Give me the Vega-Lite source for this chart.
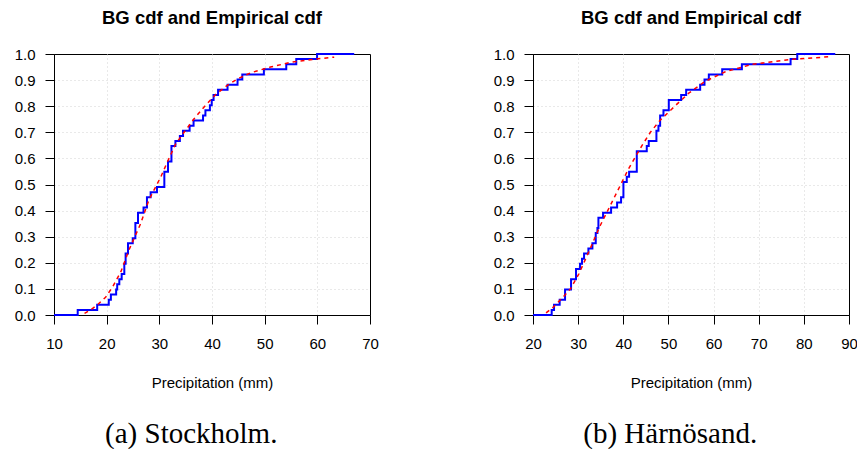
{
  "$schema": "https://vega.github.io/schema/vega-lite/v6.json",
  "background": "white",
  "padding": {"left": 13, "top": 8, "right": 0, "bottom": 0},
  "datasets": {
    "sto_ecdf": [
      {"precip": 10, "cdf": 0},
      {"precip": 14.5, "cdf": 0.0196},
      {"precip": 18.2, "cdf": 0.0392},
      {"precip": 20.4, "cdf": 0.0588},
      {"precip": 20.8, "cdf": 0.0784},
      {"precip": 21.8, "cdf": 0.098},
      {"precip": 22.0, "cdf": 0.1176},
      {"precip": 22.4, "cdf": 0.1373},
      {"precip": 22.85, "cdf": 0.1569},
      {"precip": 23.35, "cdf": 0.1961},
      {"precip": 23.6, "cdf": 0.2353},
      {"precip": 24.05, "cdf": 0.2745},
      {"precip": 24.95, "cdf": 0.2941},
      {"precip": 25.45, "cdf": 0.3529},
      {"precip": 25.95, "cdf": 0.3922},
      {"precip": 27.0, "cdf": 0.4118},
      {"precip": 27.65, "cdf": 0.451},
      {"precip": 28.35, "cdf": 0.4706},
      {"precip": 29.55, "cdf": 0.4902},
      {"precip": 30.95, "cdf": 0.549},
      {"precip": 31.65, "cdf": 0.5882},
      {"precip": 32.3, "cdf": 0.6471},
      {"precip": 33.05, "cdf": 0.6667},
      {"precip": 33.9, "cdf": 0.6863},
      {"precip": 34.5, "cdf": 0.7059},
      {"precip": 35.75, "cdf": 0.7255},
      {"precip": 36.5, "cdf": 0.7451},
      {"precip": 38.3, "cdf": 0.7647},
      {"precip": 38.75, "cdf": 0.7843},
      {"precip": 39.6, "cdf": 0.8039},
      {"precip": 39.95, "cdf": 0.8235},
      {"precip": 40.3, "cdf": 0.8431},
      {"precip": 41.15, "cdf": 0.8627},
      {"precip": 42.95, "cdf": 0.8824},
      {"precip": 44.85, "cdf": 0.902},
      {"precip": 45.75, "cdf": 0.9216},
      {"precip": 49.85, "cdf": 0.9412},
      {"precip": 54.1, "cdf": 0.9608},
      {"precip": 56.0, "cdf": 0.9804},
      {"precip": 59.95, "cdf": 1.0},
      {"precip": 67.0, "cdf": 1.0}
    ],
    "sto_bg": [
      {"precip": 15.8, "cdf": 0.006},
      {"precip": 17.0, "cdf": 0.02},
      {"precip": 18.3, "cdf": 0.04},
      {"precip": 19.8, "cdf": 0.068},
      {"precip": 21.2, "cdf": 0.11},
      {"precip": 22.7, "cdf": 0.166},
      {"precip": 24.25, "cdf": 0.25},
      {"precip": 26.45, "cdf": 0.35},
      {"precip": 28.0, "cdf": 0.44},
      {"precip": 30.3, "cdf": 0.53},
      {"precip": 31.5, "cdf": 0.585},
      {"precip": 33.1, "cdf": 0.655},
      {"precip": 34.7, "cdf": 0.7},
      {"precip": 36.6, "cdf": 0.752},
      {"precip": 38.5, "cdf": 0.797},
      {"precip": 40.7, "cdf": 0.845},
      {"precip": 42.9, "cdf": 0.88},
      {"precip": 44.8, "cdf": 0.904},
      {"precip": 47.35, "cdf": 0.928},
      {"precip": 51.1, "cdf": 0.95},
      {"precip": 54.9, "cdf": 0.968},
      {"precip": 59.4, "cdf": 0.98},
      {"precip": 63.2, "cdf": 0.988}
    ],
    "har_ecdf": [
      {"precip": 20, "cdf": 0},
      {"precip": 24.14, "cdf": 0.0196},
      {"precip": 24.66, "cdf": 0.0392},
      {"precip": 25.91, "cdf": 0.0588},
      {"precip": 27.1, "cdf": 0.098},
      {"precip": 28.43, "cdf": 0.1373},
      {"precip": 29.53, "cdf": 0.1765},
      {"precip": 30.42, "cdf": 0.1961},
      {"precip": 30.86, "cdf": 0.2157},
      {"precip": 31.31, "cdf": 0.2353},
      {"precip": 32.27, "cdf": 0.2549},
      {"precip": 33.16, "cdf": 0.2745},
      {"precip": 33.9, "cdf": 0.3137},
      {"precip": 34.27, "cdf": 0.3333},
      {"precip": 34.49, "cdf": 0.3725},
      {"precip": 35.52, "cdf": 0.3922},
      {"precip": 37.3, "cdf": 0.4118},
      {"precip": 38.63, "cdf": 0.4314},
      {"precip": 39.51, "cdf": 0.451},
      {"precip": 40.03, "cdf": 0.5098},
      {"precip": 40.77, "cdf": 0.5294},
      {"precip": 41.29, "cdf": 0.549},
      {"precip": 42.99, "cdf": 0.6275},
      {"precip": 45.2, "cdf": 0.6471},
      {"precip": 45.64, "cdf": 0.6667},
      {"precip": 47.34, "cdf": 0.7059},
      {"precip": 47.79, "cdf": 0.7255},
      {"precip": 48.16, "cdf": 0.7647},
      {"precip": 48.9, "cdf": 0.7843},
      {"precip": 50.08, "cdf": 0.8235},
      {"precip": 52.82, "cdf": 0.8431},
      {"precip": 53.93, "cdf": 0.8627},
      {"precip": 57.03, "cdf": 0.8824},
      {"precip": 57.99, "cdf": 0.902},
      {"precip": 58.95, "cdf": 0.9216},
      {"precip": 61.91, "cdf": 0.9412},
      {"precip": 66.27, "cdf": 0.9608},
      {"precip": 77.06, "cdf": 0.9804},
      {"precip": 78.54, "cdf": 1.0},
      {"precip": 86.96, "cdf": 1.0}
    ],
    "har_bg": [
      {"precip": 22.9, "cdf": 0.008},
      {"precip": 24.5, "cdf": 0.03},
      {"precip": 25.6, "cdf": 0.05},
      {"precip": 27.0, "cdf": 0.075},
      {"precip": 28.3, "cdf": 0.1},
      {"precip": 30.15, "cdf": 0.157},
      {"precip": 32.3, "cdf": 0.24},
      {"precip": 34.9, "cdf": 0.343},
      {"precip": 37.1, "cdf": 0.419},
      {"precip": 39.3, "cdf": 0.495},
      {"precip": 41.1, "cdf": 0.558},
      {"precip": 44.1, "cdf": 0.648},
      {"precip": 46.0, "cdf": 0.7},
      {"precip": 48.1, "cdf": 0.745},
      {"precip": 51.4, "cdf": 0.8},
      {"precip": 54.5, "cdf": 0.85},
      {"precip": 58.1, "cdf": 0.895},
      {"precip": 62.6, "cdf": 0.932},
      {"precip": 68.5, "cdf": 0.96},
      {"precip": 77.4, "cdf": 0.98},
      {"precip": 86.2, "cdf": 0.99}
    ]
  },
  "hconcat": [
    {
      "title": {"text": "(a) Stockholm.", "orient": "bottom", "font": "Liberation Serif", "fontSize": 29, "fontWeight": "normal", "color": "#000", "offset": 29, "dx": -5, "anchor": "middle"},
      "vconcat": [
        {
          "title": {"text": "BG cdf and Empirical cdf", "fontSize": 18.5, "fontWeight": "bold", "color": "#000", "offset": 20, "anchor": "middle", "frame": "group"},
          "width": 316,
          "height": 261,
          "encoding": {
            "x": {"field": "precip", "type": "quantitative", "scale": {"domain": [10, 70], "nice": false, "zero": false},
              "axis": {"title": "Precipitation (mm)", "values": [10, 20, 30, 40, 50, 60, 70], "tickCount": 20, "labelOverlap": false,
                "gridOpacity": {"condition": {"test": "datum.value <= 10 || datum.value >= 70", "value": 0}, "value": 1}}},
            "y": {"field": "cdf", "type": "quantitative", "scale": {"domain": [0, 1], "nice": false},
              "axis": {"title": null, "values": [0, 0.1, 0.2, 0.3, 0.4, 0.5, 0.6, 0.7, 0.8, 0.9, 1.0], "tickCount": 20, "format": ".1f", "labelOverlap": false,
                "gridOpacity": {"condition": {"test": "datum.value <= 0.001 || datum.value >= 0.999", "value": 0}, "value": 1}}}
          },
          "layer": [
            {
              "data": {"name": "sto_ecdf"},
              "mark": {"type": "line", "interpolate": "step-after", "color": "#0000ff", "strokeWidth": 2}
            },
            {
              "data": {"name": "sto_bg"},
              "mark": {"type": "line", "color": "#ff0000", "strokeWidth": 1.5, "strokeDash": [4, 4]}
            }
          ]
        }
      ]
    },
    {
      "title": {"text": "(b) Härnösand.", "orient": "bottom", "font": "Liberation Serif", "fontSize": 29, "fontWeight": "normal", "color": "#000", "offset": 29, "dx": -5, "anchor": "middle"},
      "vconcat": [
        {
          "title": {"text": "BG cdf and Empirical cdf", "fontSize": 18.5, "fontWeight": "bold", "color": "#000", "offset": 20, "anchor": "middle", "frame": "group"},
          "width": 316,
          "height": 261,
          "encoding": {
            "x": {"field": "precip", "type": "quantitative", "scale": {"domain": [20, 90], "nice": false, "zero": false},
              "axis": {"title": "Precipitation (mm)", "values": [20, 30, 40, 50, 60, 70, 80, 90], "tickCount": 20, "labelOverlap": false,
                "gridOpacity": {"condition": {"test": "datum.value <= 20 || datum.value >= 90", "value": 0}, "value": 1}}},
            "y": {"field": "cdf", "type": "quantitative", "scale": {"domain": [0, 1], "nice": false},
              "axis": {"title": null, "values": [0, 0.1, 0.2, 0.3, 0.4, 0.5, 0.6, 0.7, 0.8, 0.9, 1.0], "tickCount": 20, "format": ".1f", "labelOverlap": false,
                "gridOpacity": {"condition": {"test": "datum.value <= 0.001 || datum.value >= 0.999", "value": 0}, "value": 1}}}
          },
          "layer": [
            {
              "data": {"name": "har_ecdf"},
              "mark": {"type": "line", "interpolate": "step-after", "color": "#0000ff", "strokeWidth": 2}
            },
            {
              "data": {"name": "har_bg"},
              "mark": {"type": "line", "color": "#ff0000", "strokeWidth": 1.5, "strokeDash": [4, 4]}
            }
          ]
        }
      ]
    }
  ],
  "spacing": 113,
  "config": {
    "font": "Liberation Sans",
    "view": {"stroke": "#000", "strokeWidth": 1},
    "axis": {
      "domainColor": "#000",
      "tickColor": "#000",
      "labelColor": "#000",
      "titleColor": "#000",
      "labelFont": "Liberation Sans",
      "titleFont": "Liberation Sans",
      "labelFontSize": 15,
      "titleFontSize": 15,
      "titleFontWeight": "normal",
      "tickSize": 9,
      "labelPadding": 10,
      "labelFlush": false,
      "labelOverlap": false,
      "grid": true,
      "gridColor": "#d3d3d3",
      "gridDash": [1, 3]
    },
    "axisX": {"labelPadding": 12, "titlePadding": 24},
    "title": {"font": "Liberation Sans"}
  }
}
